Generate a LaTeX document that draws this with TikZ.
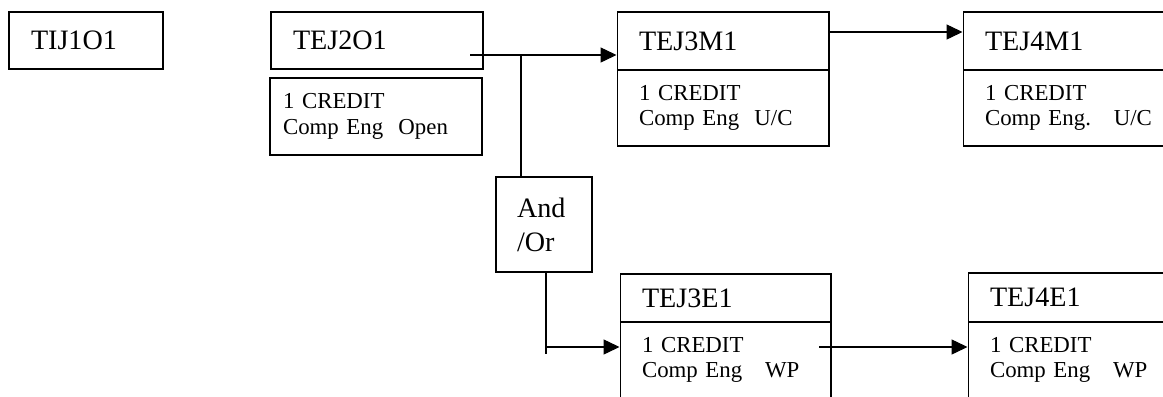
\documentclass[tikz,border=0pt]{standalone}
\usepackage{fontspec}
\setmainfont{Liberation Serif}
\usetikzlibrary{arrows.meta}

\begin{document}
\begin{tikzpicture}[x=0.02cm,y=-0.02cm,line width=0.6pt,
    title/.style={draw,inner xsep=0.44cm,inner ysep=0pt,align=left,
      font=\fontsize{16}{19.3}\selectfont},
    info/.style={draw,inner xsep=0.44cm,inner ysep=0pt,align=left,
      text width=3.36cm,minimum height=1.52cm,
      font=\fontsize{13}{14.5}\selectfont},
    arr/.style={-{Triangle[length=9pt,width=8.5pt]}}]
  \clip (0,0) rectangle (1163,396);
  % first column
  \node (tij) at (86,40.5) [title,text width=2.2cm,minimum height=1.14cm] {TIJ1O1};
  \node (e2t) at (377,40.5) [title,text width=3.36cm,minimum height=1.14cm] {TEJ2O1};
  \node (e2b) at (376,116.5) [info,inner xsep=0.26cm,text width=3.72cm,minimum height=1.54cm] {1 CREDIT\\Comp Eng~~Open};
  % university / college stream
  \node (m3t) at (723,41) [title,text width=3.36cm,minimum height=1.16cm] {TEJ3M1};
  \node (m3b) at (723,108) [info] {1 CREDIT\\Comp Eng~~U/C};
  \node (m4t) at (1069,41) [title,text width=3.36cm,minimum height=1.16cm] {TEJ4M1};
  \node (m4b) at (1069,108) [info] {1 CREDIT\\Comp Eng.~~~U/C};
  % and/or
  \node (andor) at (544,224.5) [title,inner xsep=0.42cm,text width=1.08cm,minimum height=1.9cm] {And\\/Or};
  % workplace stream
  \node (e3t) at (725.5,298) [title,text width=3.34cm,minimum height=0.96cm] {TEJ3E1};
  \node (e3b) at (725.5,360) [info,text width=3.34cm] {1 CREDIT\\Comp Eng~~~WP};
  \node (e4t) at (1074,297.5) [title,text width=3.36cm,minimum height=0.98cm] {TEJ4E1};
  \node (e4b) at (1074,360) [info] {1 CREDIT\\Comp Eng~~~WP};
  % connectors
  \coordinate (s1) at (470,55);
  \coordinate (j1) at (521,55);
  \coordinate (s2) at (829,32);
  \coordinate (j2) at (546,354);
  \coordinate (j3) at (546,347);
  \coordinate (s4) at (819,347);
  \draw[arr] (s1) to (s1 -| m3t.west);
  \draw (j1) to (j1 |- andor.north);
  \draw[arr] (s2) to (s2 -| m4t.west);
  \draw (j2 |- andor.south) to (j2);
  \draw[arr] (j3) to (j3 -| e3b.west);
  \draw[arr] (s4) to (s4 -| e4b.west);
\end{tikzpicture}
\end{document}
